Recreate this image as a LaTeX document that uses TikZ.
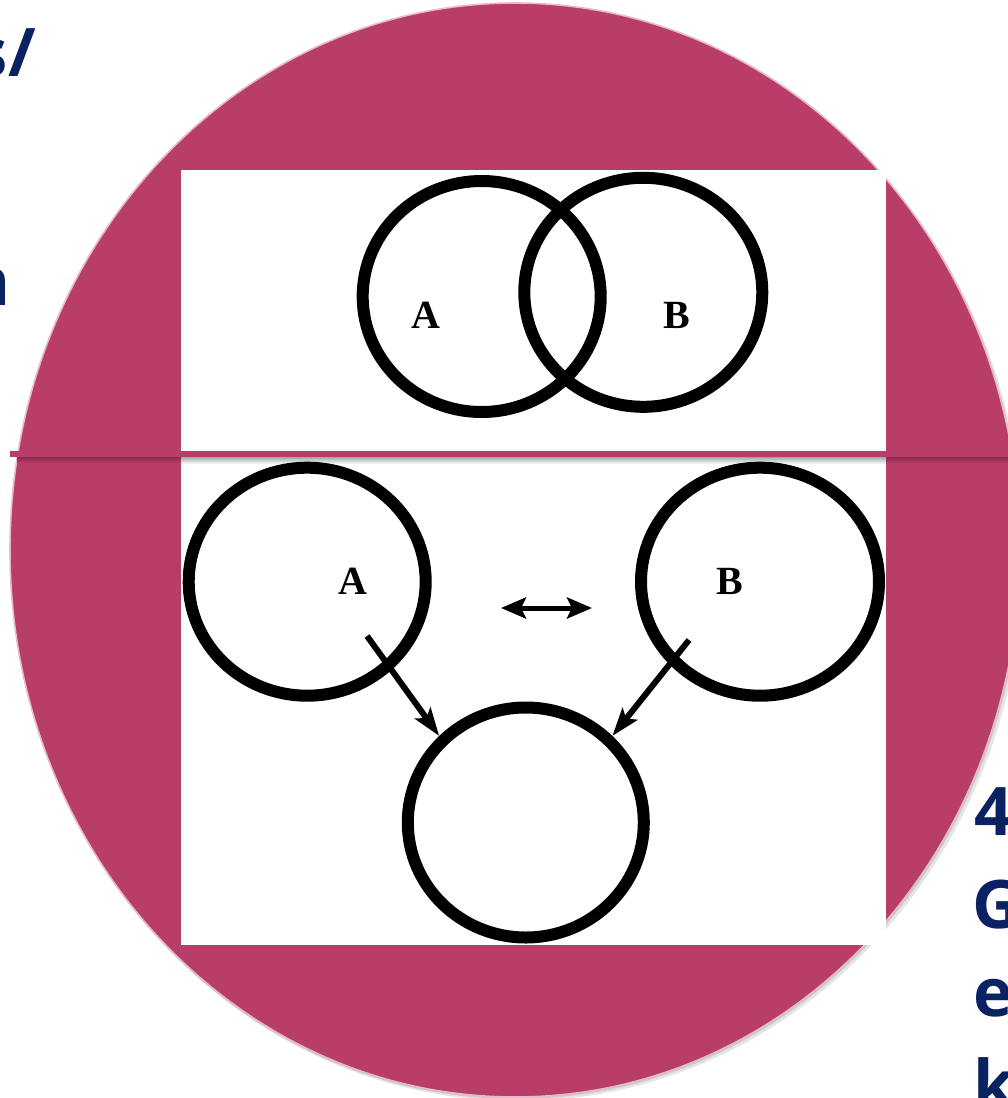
\documentclass[tikz,border=0pt]{standalone}
\usepackage{fontspec}
\usetikzlibrary{arrows.meta,shapes.geometric}
\newfontfamily\navyfont{Open Sans}
\newfontfamily\labfont{Liberation Serif}
\definecolor{rose}{RGB}{184,61,104}
\definecolor{roseedge}{RGB}{232,184,205}
\definecolor{rosedark}{RGB}{138,44,78}
\definecolor{navy}{RGB}{10,33,98}
\begin{document}
\begin{tikzpicture}[x=1pt,y=-1pt,
  ring/.style={draw=black, line width=12pt, ellipse, inner sep=0pt, minimum width=238pt, minimum height=229pt},
  lab/.style={font=\labfont\bfseries\fontsize{40}{40}\selectfont, inner sep=0pt},
  side/.style={font=\navyfont\bfseries\fontsize{67}{67}\selectfont, text=navy, inner sep=0pt},
  arr/.style={line width=6pt, -{Stealth[length=28pt,width=19pt,inset=6pt]}},
  darr/.style={line width=5pt, {Stealth[length=25pt,width=21pt,inset=5pt]}-{Stealth[length=25pt,width=21pt,inset=5pt]}}]
\useasboundingbox (0,0) rectangle (1008,1098);
\clip (0,0) rectangle (1008,1098);
% big disc with soft shadow
\fill[black, opacity=0.10] (518,554) ellipse (506 and 547);
\fill[black, opacity=0.12] (516,552) ellipse (505.5 and 547);
\fill[rose, draw=roseedge, line width=1.6pt] (515,550) ellipse (505 and 547);
% white panels
\fill[white] (181,170) rectangle (886,945);
% dividing rule and its shadow
\shade[top color=rosedark, bottom color=rose] (17,457) rectangle (181,463);
\shade[top color=black!35, bottom color=white] (181,457) rectangle (886,464);
\shade[top color=rosedark, bottom color=rose] (886,457) rectangle (1008,463);
\fill[rose] (10,451) rectangle (1008,457);
% top Venn diagram
\node[ring, minimum height=231pt] (vA) at (481.7,296.5) {};
\node[ring] (vB) at (643.3,292.3) {};
\node[lab] (lA1) at (426,315) {A};
\node[lab] (lB1) at (676.7,315) {B};
% bottom diagram
\node[ring, minimum width=237pt, minimum height=228pt] (cA) at (307.2,581.7) {};
\node[ring, minimum height=228pt] (cB) at (760,581.7) {};
\node[ring, minimum width=236pt, minimum height=230pt] (cC) at (525.8,822.5) {};
\node[lab] (lA2) at (353,581) {A};
\node[lab] (lB2) at (730,581) {B};
\coordinate (sa) at (367,636);
\coordinate (sb) at (689,640);
\coordinate (dl) at (501,608);
\coordinate (dr) at (592,608);
\draw[arr] (sa) -- (cC.135);
\draw[arr] (sb) -- (cC.45);
\draw[darr] (dl) -- (dr);
% cut-off slide text
\node[side, anchor=base east] (t1) at (36,76) {s/};
\node[side, anchor=base east] (t2) at (11,305) {n};
\node[side, anchor=base west] (t3) at (974,835) {4};
\node[side, anchor=base west] (t4) at (972,928) {G};
\node[side, anchor=base west] (t5) at (973,1016) {e};
\node[side, anchor=base west] (t6) at (973,1108) {k};
\end{tikzpicture}
\end{document}
